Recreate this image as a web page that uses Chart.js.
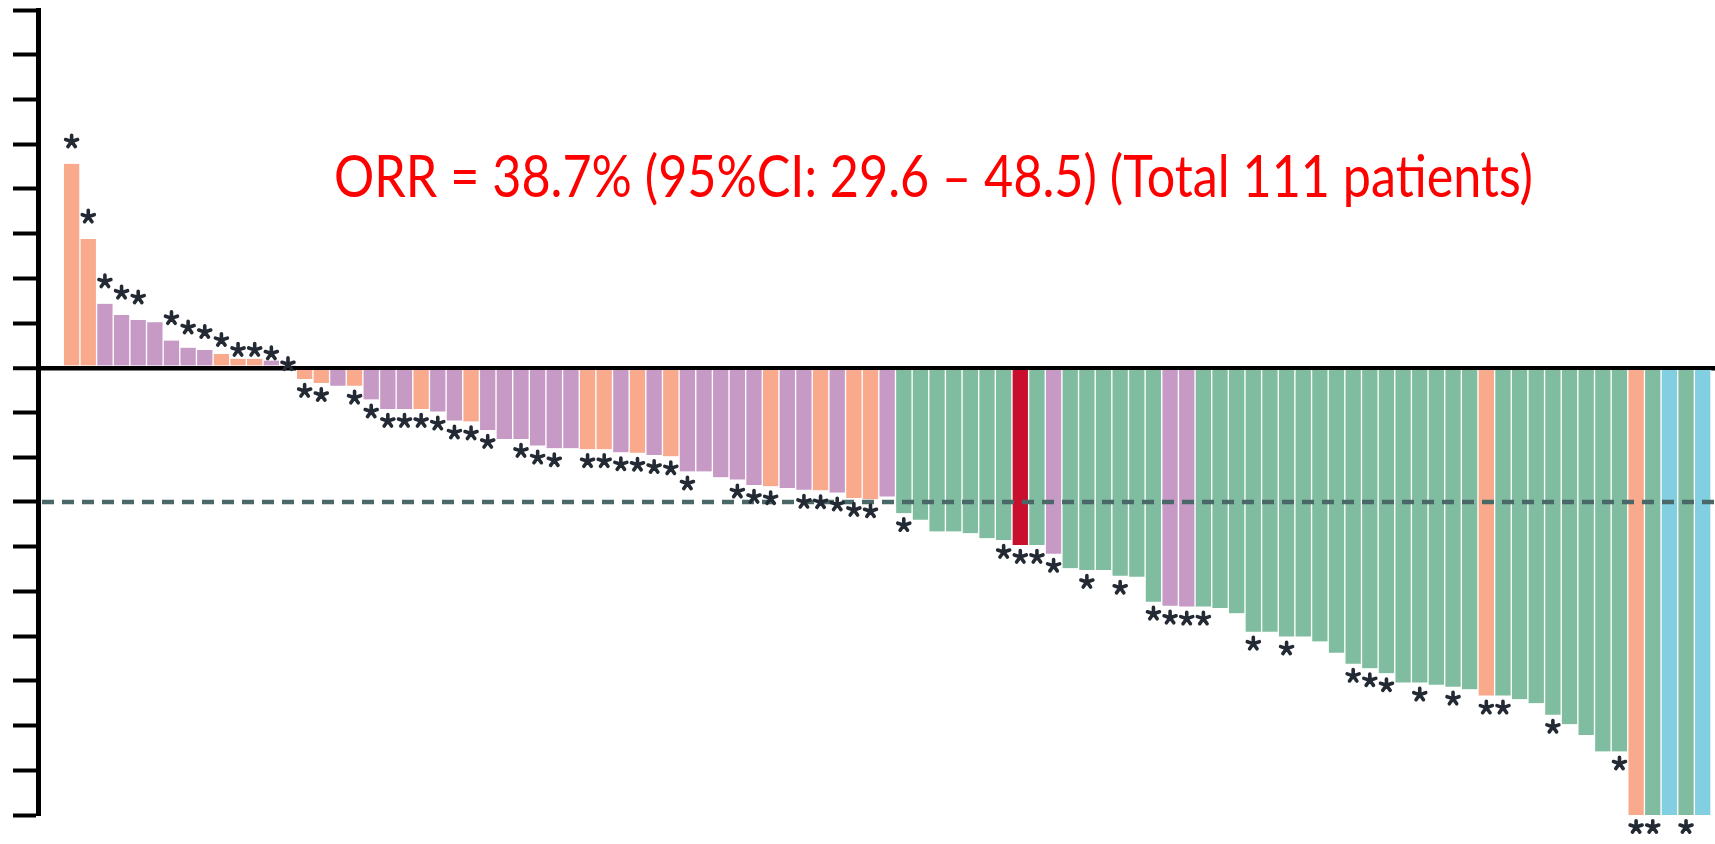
<!DOCTYPE html>
<html>
<head>
<meta charset="utf-8">
<title>Best change in tumour size</title>
<script src="https://cdn.jsdelivr.net/npm/chart.js@4.4.0/dist/chart.umd.min.js"></script>
<style>
  html, body { margin: 0; padding: 0; background: #ffffff; }
  canvas { display: block; }
</style>
</head>
<body>
<canvas id="waterfall" width="1715" height="844"></canvas>
<script>
// Best percentage change from baseline, one bar per patient (sorted)
const changePct = [
  45.6, 28.8, 14.3, 11.8, 10.7, 10.2, 6.1, 4.5, 4.0, 3.1, 2.0, 2.0, 1.6, 0.4,
  -2.5, -3.4, -4.0, -4.0, -7.1, -9.2, -9.2, -9.2, -9.8, -11.8, -12.0, -13.9, -15.9, -15.9, -17.4, -18.0,
  -18.0, -18.2, -18.2, -18.9, -19.0, -19.5, -19.8, -23.2, -23.2, -24.5, -25.0, -26.2, -26.5, -26.9, -27.3, -27.4, -27.9, -29.1, -29.4, -28.8,
  -32.5, -34.0, -36.6, -36.6, -37.0, -38.1, -38.5, -39.6, -39.6, -41.6, -44.8, -45.2, -45.2, -46.5, -46.7, -52.3, -53.2, -53.4, -53.4, -53.7,
  -54.9, -59.0, -59.0, -60.1, -60.1, -61.2, -63.7, -66.2, -67.2, -68.3, -70.4, -70.4, -70.9, -71.3, -71.9, -73.3, -73.3, -74.1, -75.0, -77.6,
  -79.7, -82.1, -85.8, -85.8, -100, -100, -100, -100, -100
];

// Best-response group of each patient (colour key)
const responseGroup = [
  'PD','PD','SD','SD','SD','SD','SD','SD','SD','PD','PD','PD','SD','SD',
  'PD','PD','SD','PD','SD','SD','SD','PD','SD','SD','PD','SD','SD','SD','SD','SD',
  'SD','PD','PD','SD','PD','SD','PD','SD','SD','SD','SD','SD','PD','SD','SD','PD','SD','PD','PD','SD',
  'PR','PR','PR','PR','PR','PR','PR','NE','PR','SD','PR','PR','PR','PR','PR','PR','SD','SD','PR','PR',
  'PR','PR','PR','PR','PR','PR','PR','PR','PR','PR','PR','PR','PR','PR','PR','PD','PR','PR','PR','PR',
  'PR','PR','PR','PR','PD','PR','CR','PR','CR'
];

// Patients flagged with an asterisk
const flagged = [
  1,1,1,1,1,0,1,1,1,1,1,1,1,1,
  1,1,0,1,1,1,1,1,1,1,1,1,0,1,1,1,
  0,1,1,1,1,1,1,1,0,0,1,1,1,0,1,1,1,1,1,0,
  1,0,0,0,0,0,1,1,1,1,0,1,0,1,0,1,1,1,1,0,
  0,1,0,1,0,0,0,1,1,1,0,1,0,1,0,1,1,0,0,1,
  0,0,0,1,1,1,0,1,0
];

const groupColors = {
  PD: '#F9AA8C',
  SD: '#C79AC6',
  PR: '#80BDA0',
  NE: '#C8102E',
  CR: '#82CFE2'
};

const yMin = -100;
const yMax = 80;
const yStep = 10;
const responseThreshold = -30;
const caption = 'ORR = 38.7% (95%CI: 29.6 \u2013 48.5) (Total 111 patients)';

const patientNo = changePct.map((_, i) => i + 1);
const points = patientNo.map((p, i) => ({ x: p, y: changePct[i] }));

// Five-armed asterisk marker
function drawAsterisk(ctx, cx, cy, r) {
  ctx.save();
  ctx.strokeStyle = '#232a33';
  ctx.lineWidth = 3.6;
  ctx.lineCap = 'round';
  ctx.beginPath();
  for (let k = 0; k < 5; k++) {
    const a = -Math.PI / 2 + k * 2 * Math.PI / 5;
    ctx.moveTo(cx, cy);
    ctx.lineTo(cx + r * Math.cos(a), cy + r * Math.sin(a));
  }
  ctx.stroke();
  ctx.restore();
}

const overlay = {
  id: 'overlay',
  afterDraw(chart) {
    const { ctx, chartArea, scales } = chart;
    const y = scales.y;
    const meta = chart.getDatasetMeta(0);

    // -30% response threshold
    const ty = y.getPixelForValue(responseThreshold);
    ctx.save();
    ctx.strokeStyle = '#4a6868';
    ctx.lineWidth = 4.5;
    ctx.setLineDash([12, 8]);
    ctx.beginPath();
    ctx.moveTo(chartArea.left + 4, ty);
    ctx.lineTo(chart.width, ty);
    ctx.stroke();
    ctx.restore();

    // asterisks above / below flagged bars
    meta.data.forEach((bar, i) => {
      if (!flagged[i]) return;
      const v = changePct[i];
      let sy;
      if (v >= 0) {
        sy = y.getPixelForValue(v + Math.min(5, v));
      } else {
        sy = y.getPixelForValue(v) + 12;
      }
      drawAsterisk(ctx, bar.x, sy, 6.3);
    });

    // caption
    ctx.save();
    ctx.font = '58px Lato';
    ctx.fillStyle = '#FF0000';
    ctx.textBaseline = 'alphabetic';
    const left = chart.width * 0.1948, right = chart.width * 0.8939;
    const w = ctx.measureText(caption).width;
    ctx.translate(left, 197);
    ctx.scale((right - left) / w, 1);
    ctx.fillText(caption, 0, 0);
    ctx.restore();
  }
};

new Chart(document.getElementById('waterfall'), {
  type: 'bar',
  data: {
    datasets: [{
      data: points,
      backgroundColor: responseGroup.map(g => groupColors[g]),
      borderColor: '#ffffff',
      borderWidth: { left: 1, right: 1, top: 0, bottom: 0 },
      borderSkipped: false,
      barPercentage: 1,
      categoryPercentage: 1
    }]
  },
  options: {
    responsive: false,
    devicePixelRatio: 1,
    animation: false,
    layout: { padding: { left: 13, right: 0, top: 10, bottom: 29 } },
    plugins: {
      legend: { display: false },
      tooltip: { enabled: false },
      title: { display: false }
    },
    scales: {
      x: {
        type: 'linear',
        display: false,
        offset: false,
        min: -1.02,
        max: 99.74,
        ticks: { stepSize: 1000 }
      },
      y: {
        min: yMin,
        max: yMax,
        z: 1,
        ticks: { display: false, stepSize: yStep },
        border: { display: true, color: '#000000', width: 5 },
        grid: {
          drawTicks: true,
          tickLength: 25,
          tickWidth: 4,
          tickColor: '#000000',
          drawOnChartArea: true,
          color: c => (c.tick && c.tick.value === 0 ? '#000000' : 'rgba(0,0,0,0)'),
          lineWidth: c => (c.tick && c.tick.value === 0 ? 4.5 : 1)
        }
      }
    }
  },
  plugins: [overlay]
});
</script>
</body>
</html>
